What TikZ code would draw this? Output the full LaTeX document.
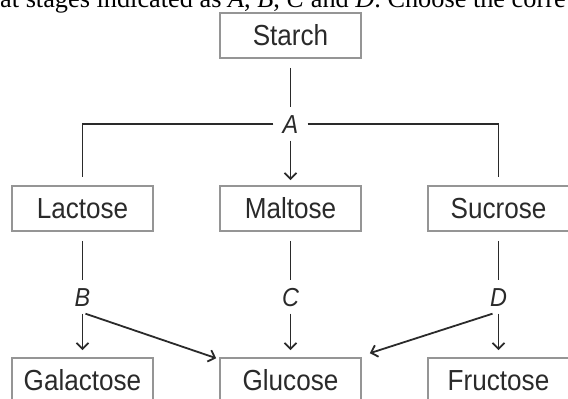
\documentclass[tikz,border=0pt]{standalone}
\usepackage{fontspec}
\setmainfont{Liberation Serif}
\newfontfamily\labelfont[FakeStretch=0.9]{Liberation Sans}
\usetikzlibrary{arrows.meta}
\definecolor{inkgray}{HTML}{2A2A2A}
\definecolor{boxgray}{HTML}{959595}

\begin{document}
\begin{tikzpicture}[x=1pt,y=-1pt,
  sugar/.style={draw=boxgray,line width=1.6pt,minimum width=141pt,minimum height=45pt,
    inner sep=0pt,text=inkgray,font=\labelfont\fontsize{29}{31}\selectfont},
  stage/.style={inner xsep=9pt,inner ysep=7pt,text height=19pt,text depth=0pt,
    text=inkgray,font=\labelfont\itshape\fontsize{26}{28}\selectfont},
  link/.style={draw=inkgray,line width=1.8pt},
  arr/.style={link,-{Straight Barb[length=6pt,width=12pt]}}]
\useasboundingbox (0,0) rectangle (568,399);
% cut-off line of the question above
\node[anchor=base west,inner sep=0pt,font=\fontsize{26.3}{28}\selectfont] (question) at (0,7)
  {at stages indicated as \textit{A}, \textit{B}, \textit{C} and \textit{D}. Choose the corre};
% sugars
\node[sugar] (starch) at (290.5,35.5) {Starch};
\node[sugar] (lactose) at (82.5,208.5) {Lactose};
\node[sugar] (maltose) at (290.5,208.5) {Maltose};
\node[sugar] (sucrose) at (498.5,208.5) {Sucrose};
\node[sugar] (galactose) at (82.5,380.5) {Galactose};
\node[sugar] (glucose) at (290.5,380.5) {Glucose};
\node[sugar] (fructose) at (498.5,380.5) {Fructose};
% stages
\node[stage] (labA) at (290.5,124) {A};
\node[stage] (labB) at (82.5,297) {B};
\node[stage] (labC) at (290.5,297) {C};
\node[stage] (labD) at (498.5,297) {D};
% stage A
\draw[link] ([yshift=-9pt]starch.south) -- (labA);
\draw[link] (labA) -| ([yshift=8pt]lactose.north);
\draw[link] (labA) -| ([yshift=8pt]sucrose.north);
\draw[arr] (labA) -- ([yshift=5pt]maltose.north);
% stages B, C, D
\draw[link] ([yshift=-9pt]lactose.south) -- (labB);
\draw[link] ([yshift=-9pt]maltose.south) -- (labC);
\draw[link] ([yshift=-9pt]sucrose.south) -- (labD);
\draw[arr] (labB) -- ([yshift=7pt]galactose.north);
\draw[arr] ([xshift=3pt]labB.south) -- ([xshift=-3pt,yshift=-1pt]glucose.north west);
\draw[arr] (labC) -- ([yshift=7pt]glucose.north);
\draw[arr] ([xshift=-6pt]labD.south) -- ([xshift=8pt,yshift=4pt]glucose.north east);
\draw[arr] (labD) -- ([yshift=7pt]fructose.north);
\end{tikzpicture}
\end{document}
